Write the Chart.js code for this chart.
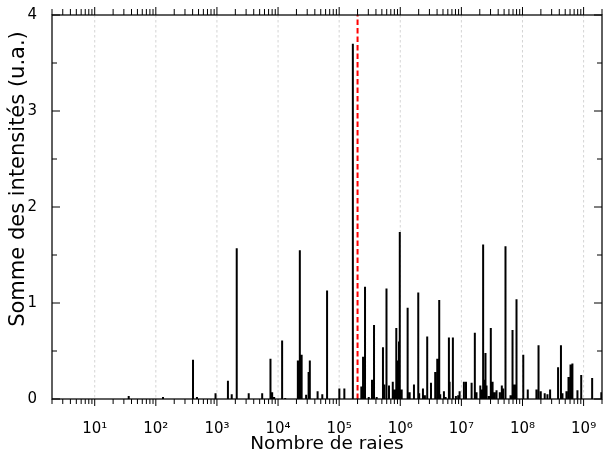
<!DOCTYPE html>
<html>
<head>
<meta charset="utf-8">
<script src="https://cdn.jsdelivr.net/npm/chart.js@4/dist/chart.umd.min.js"></script>
<style>
  html, body { margin: 0; padding: 0; background: #fff; }
  #wrap { width: 603px; height: 454px; }
</style>
</head>
<body>
<div id="wrap"><canvas id="c" width="603" height="454"></canvas></div>
<script>
// Number of lines at which each intensity sum occurs
const raies = [36, 131, 406, 471, 948, 1513, 1746, 2108, 3311, 5500, 7516, 8017, 8636, 11660, 13100,
  21090, 22720, 24320, 28790, 31620, 33110, 44380, 52970, 63420, 100700, 121600, 167500,
  230600, 246000, 265000, 305000, 345000, 372000, 411000, 521000, 546000, 595000, 654000,
  754000, 803000, 861000, 917000, 953000, 982000, 1055000, 1320000, 1425000, 1675000,
  1970000, 2040000, 2350000, 2530000, 2760000, 3180000, 3730000, 4030000, 4340000, 4510000,
  5180000, 5520000, 6250000, 6410000, 7260000, 8130000, 8870000, 9350000, 1.10e7, 1.19e7,
  1.47e7, 1.66e7, 1.77e7, 2.04e7, 2.19e7, 2.27e7, 2.39e7, 2.48e7, 2.58e7, 2.81e7, 3.03e7,
  3.24e7, 3.48e7, 3.76e7, 4.25e7, 4.59e7, 4.82e7, 5.27e7, 6.37e7, 6.87e7, 7.40e7, 7.98e7,
  1.03e8, 1.22e8, 1.69e8, 1.83e8, 1.99e8, 2.31e8, 2.56e8, 2.83e8, 3.82e8, 4.26e8, 4.51e8,
  5.24e8, 5.66e8, 6.11e8, 6.56e8, 7.93e8, 9.14e8, 1.38e9, 1.95e9];

// Summed intensities (arbitrary units)
const intensites = [0.03, 0.02, 0.41, 0.02, 0.06, 0.19, 0.05, 1.57, 0.06, 0.06, 0.42, 0.07, 0.02, 0.61, 0.01,
  0.40, 1.55, 0.46, 0.045, 0.28, 0.40, 0.08, 0.05, 1.13, 0.11, 0.11, 3.70,
  0.13, 0.44, 1.17, 0.02, 0.20, 0.77, 0.02, 0.54, 0.15, 1.15, 0.14,
  0.18, 0.10, 0.74, 0.40, 0.60, 1.74, 0.10, 0.95, 0.07, 0.15,
  1.11, 0.06, 0.11, 0.04, 0.65, 0.17, 0.28, 0.42, 1.03, 0.05,
  0.08, 0.02, 0.64, 0.18, 0.64, 0.03, 0.04, 0.08, 0.18, 0.18,
  0.17, 0.69, 0.07, 0.14, 0.10, 1.61, 0.20, 0.48, 0.14, 0.03, 0.74,
  0.18, 0.07, 0.09, 0.07, 0.14, 0.11, 1.59, 0.04, 0.72, 0.15, 1.04,
  0.46, 0.10, 0.10, 0.56, 0.08, 0.06, 0.05, 0.10, 0.33, 0.56, 0.06,
  0.08, 0.23, 0.36, 0.37, 0.09, 0.25, 0.22, 0.07];

// Threshold marked by the dashed line
const seuil = 2e5;

// Axis ranges and labelled decades
const xRange = [2, 2e9];
const yRange = [0, 4];
const decades = [1e1, 1e2, 1e3, 1e4, 1e5, 1e6, 1e7, 1e8, 1e9];
const decadeLabels = ['10¹', '10²', '10³', '10⁴', '10⁵', '10⁶', '10⁷', '10⁸', '10⁹'];
const yTicks = [0, 1, 2, 3, 4];

// Each stick runs from 0 up to its intensity; a null point breaks the line between sticks
const stickPoints = [];
raies.forEach((r, i) => {
  stickPoints.push({ x: r, y: 0 }, { x: r, y: intensites[i] }, { x: r, y: null });
});

const FONT = 'DejaVu Sans';

const axesPlugin = {
  id: 'axesDecor',
  beforeDatasetsDraw(chart) {
    const { ctx, chartArea: a, scales: { x } } = chart;
    ctx.save();
    ctx.strokeStyle = '#cfcfcf';
    ctx.lineWidth = 0.9;
    ctx.setLineDash([2.5, 2.5]);
    decades.forEach(v => {
      const px = x.getPixelForValue(v);
      ctx.beginPath();
      ctx.moveTo(px, a.top);
      ctx.lineTo(px, a.bottom);
      ctx.stroke();
    });
    ctx.restore();
  },
  afterDatasetsDraw(chart) {
    const { ctx, chartArea: a, scales: { x, y } } = chart;
    ctx.save();
    ctx.strokeStyle = '#000';
    ctx.lineWidth = 1.25;
    ctx.strokeRect(a.left, a.top, a.right - a.left, a.bottom - a.top);

    // log minor/major ticks on top and bottom, pointing outward
    ctx.lineWidth = 1;
    for (let e = 0; e <= 9; e++) {
      for (let m = 1; m <= 9; m++) {
        const v = m * Math.pow(10, e);
        if (v < xRange[0] || v > xRange[1]) continue;
        const px = x.getPixelForValue(v);
        const len = m === 1 ? 7 : 5;
        ctx.beginPath();
        ctx.moveTo(px, a.bottom);
        ctx.lineTo(px, a.bottom + len);
        ctx.moveTo(px, a.top);
        ctx.lineTo(px, a.top - len - 1);
        ctx.stroke();
      }
    }
    // y ticks on both sides, pointing inward
    for (let v = yRange[0]; v <= yRange[1] + 1e-9; v += 0.5) {
      const py = y.getPixelForValue(v);
      const major = Math.abs(v - Math.round(v)) < 1e-9;
      const len = major ? 8 : 5;
      ctx.beginPath();
      ctx.moveTo(a.left, py);
      ctx.lineTo(a.left + len, py);
      ctx.moveTo(a.right, py);
      ctx.lineTo(a.right - len, py);
      ctx.stroke();
    }

    // vertical axis title
    ctx.fillStyle = '#000';
    ctx.font = '21px "' + FONT + '"';
    ctx.textAlign = 'center';
    ctx.textBaseline = 'middle';
    ctx.translate(19, 179);
    ctx.rotate(-Math.PI / 2);
    ctx.fillText('Somme des intensités (u.a.)', 0, 0);
    ctx.restore();
  }
};

new Chart(document.getElementById('c'), {
  type: 'scatter',
  data: {
    datasets: [
      {
        data: stickPoints,
        showLine: true,
        spanGaps: false,
        borderColor: '#000',
        borderWidth: 2,
        pointRadius: 0,
        borderCapStyle: 'butt'
      },
      {
        data: [{ x: seuil, y: yRange[0] }, { x: seuil, y: yRange[1] }],
        showLine: true,
        borderColor: '#ff0000',
        borderWidth: 2,
        borderDash: [5.5, 3],
        pointRadius: 0
      }
    ]
  },
  options: {
    responsive: false,
    animation: false,
    events: [],
    layout: { padding: { top: 15, right: 1, left: 0, bottom: 0 } },
    plugins: { legend: { display: false }, tooltip: { enabled: false } },
    scales: {
      x: {
        type: 'logarithmic',
        min: xRange[0],
        max: xRange[1],
        afterBuildTicks: s => { s.ticks = decades.map(v => ({ value: v })); },
        afterFit: s => { s.height = 55; s.paddingLeft = 0; s.paddingRight = 0; },
        grid: { display: false },
        border: { display: false },
        ticks: {
          autoSkip: false,
          maxRotation: 0,
          padding: 13,
          color: '#000',
          font: { family: FONT, size: 15 },
          callback: v => {
            const i = decades.indexOf(v);
            return i >= 0 ? decadeLabels[i] : '';
          }
        },
        title: {
          display: true,
          text: 'Nombre de raies',
          color: '#000',
          font: { family: FONT, size: 18.5, lineHeight: 1 },
          padding: { top: 0, bottom: 1 }
        }
      },
      y: {
        min: yRange[0],
        max: yRange[1],
        afterBuildTicks: s => { s.ticks = yTicks.map(v => ({ value: v })); },
        afterFit: s => { s.width = 52; s.paddingTop = 0; s.paddingBottom = 0; },
        grid: { display: false },
        border: { display: false },
        ticks: {
          padding: 7,
          color: '#000',
          font: { family: FONT, size: 15 }
        }
      }
    }
  },
  plugins: [axesPlugin]
});
</script>
</body>
</html>
